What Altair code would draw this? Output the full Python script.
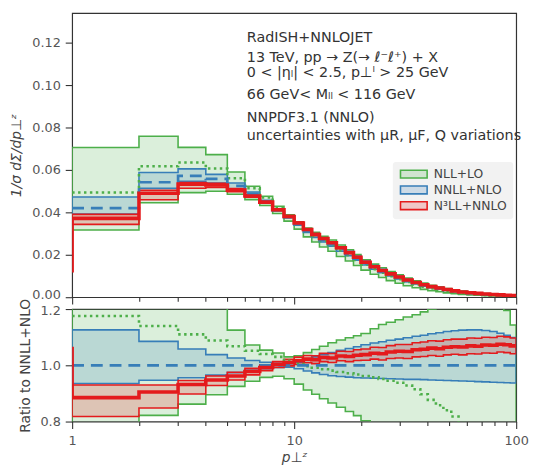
import altair as alt
import pandas as pd

# ---------------- data ----------------
edges = [1, 2, 3, 4, 5, 6, 7, 8, 9, 10, 11, 12, 13, 14.2, 15.5, 17, 18.5, 20,
         22, 24, 26, 28.5, 31, 34, 37, 40, 43.5, 47, 51, 55, 60, 65, 70, 76, 82, 88, 94, 100]

series_names = ["NLL+LO", "NNLL+NLO", "N³LL+NNLO"]
series_colors = ["#4daf4a", "#377eb8", "#e41a1c"]

# NNLL+NLO central value, 1/sigma dSigma/dpT
nnll_central = [0.0420, 0.0542, 0.0572, 0.0558, 0.0525, 0.0488, 0.0452, 0.0411, 0.0377,
                0.0344, 0.0312, 0.0290, 0.0269, 0.0250, 0.0226, 0.0204, 0.0182, 0.0159,
                0.0138, 0.0121, 0.0105, 0.00905, 0.00772, 0.00654, 0.00558, 0.00471,
                0.00406, 0.00338, 0.00281, 0.00235, 0.00196, 0.00169, 0.00140, 0.00121,
                0.00102, 0.00084, 0.00075]

# ratios to NNLL+NLO central
nll_c = [1.175, 1.140, 1.110, 1.088, 1.068, 1.052, 1.040, 1.030, 1.016,
         1.005, 0.997, 0.991, 0.986, 0.981, 0.976, 0.972, 0.967, 0.962,
         0.957, 0.951, 0.945, 0.938, 0.928, 0.915, 0.897, 0.877,
         0.858, 0.840, 0.818, 0.795, 0.772, 0.750, 0.728, 0.705,
         0.685, 0.665, 0.645]
nll_hi = [1.680, 1.400, 1.235, 1.205, 1.125, 1.072, 1.054, 1.044, 1.030,
          1.034, 1.045, 1.056, 1.068, 1.080, 1.090, 1.098, 1.105, 1.113,
          1.130, 1.145, 1.153, 1.162, 1.172, 1.180, 1.190, 1.200,
          1.210, 1.215, 1.220, 1.225, 1.225, 1.230, 1.225, 1.215,
          1.205, 1.195, 1.143]
nll_lo = [0.755, 0.822, 0.862, 0.895, 0.925, 0.943, 0.957, 0.961, 0.952,
          0.933, 0.912, 0.897, 0.881, 0.866, 0.851, 0.836, 0.821, 0.803,
          0.785, 0.765, 0.745, 0.725, 0.705, 0.685, 0.665, 0.645,
          0.625, 0.605, 0.585, 0.565, 0.545, 0.525, 0.505, 0.490,
          0.475, 0.460, 0.445]

nnll_c = [1.0] * 37
nnll_hi = [1.126, 1.085, 1.058, 1.038, 1.026, 1.017, 1.011, 1.007, 1.006,
           1.010, 1.020, 1.030, 1.038, 1.045, 1.053, 1.060, 1.066, 1.073,
           1.079, 1.084, 1.089, 1.093, 1.098, 1.103, 1.107, 1.112,
           1.116, 1.120, 1.123, 1.125, 1.126, 1.126, 1.124, 1.120,
           1.114, 1.107, 1.099]
nnll_lo = [0.935, 0.947, 0.956, 0.965, 0.974, 0.982, 0.988, 0.992, 0.993,
           0.988, 0.980, 0.973, 0.967, 0.963, 0.960, 0.958, 0.956, 0.955,
           0.954, 0.953, 0.952, 0.951, 0.950, 0.950, 0.949, 0.948,
           0.947, 0.946, 0.945, 0.944, 0.943, 0.942, 0.941, 0.940,
           0.939, 0.938, 0.937]

n3ll_c = [0.885, 0.905, 0.932, 0.948, 0.962, 0.978, 0.992, 1.003, 1.010,
          1.016, 1.022, 1.020, 1.028, 1.026, 1.033, 1.031, 1.036, 1.038,
          1.043, 1.041, 1.047, 1.050, 1.049, 1.055, 1.057, 1.061,
          1.059, 1.064, 1.066, 1.065, 1.069, 1.068, 1.072, 1.071,
          1.075, 1.073, 1.069]
n3ll_lo = [0.818, 0.848, 0.898, 0.928, 0.948, 0.966, 0.981, 0.992, 0.998,
           1.003, 1.009, 1.006, 1.013, 1.010, 1.016, 1.013, 1.017, 1.018,
           1.022, 1.019, 1.024, 1.026, 1.024, 1.030, 1.031, 1.035,
           1.032, 1.037, 1.039, 1.037, 1.041, 1.040, 1.044, 1.043,
           1.047, 1.045, 1.041]
n3ll_hi = [0.930, 0.930, 0.946, 0.962, 0.975, 0.989, 1.002, 1.013, 1.021,
           1.029, 1.035, 1.034, 1.043, 1.042, 1.050, 1.049, 1.055, 1.058,
           1.064, 1.063, 1.070, 1.074, 1.074, 1.080, 1.083, 1.087,
           1.086, 1.091, 1.093, 1.093, 1.097, 1.096, 1.100, 1.099,
           1.103, 1.101, 1.097]

# bin just below pT = 1 (only its step edge at pT = 1 is visible)
under_edge = 0.5
under_n3ll_abs = 0.0125
under_n3ll_ratio = 1.06

ann_lines = ["RadISH+NNLOJET",
             "13 TeV, pp → Z(→ ℓ⁻ℓ⁺) + X",
             "0 < |ηₗ| < 2.5, p⊥ˡ > 25 GeV",
             "66 GeV< Mₗₗ < 116 GeV",
             "NNPDF3.1 (NNLO)",
             "uncertainties with μR, μF, Q variations"]

# ---------------- tables ----------------
n_bins = len(edges) - 1
band_rows = []
for name, lo, hi in [(series_names[0], nll_lo, nll_hi),
                     (series_names[1], nnll_lo, nnll_hi),
                     (series_names[2], n3ll_lo, n3ll_hi)]:
    for i, e in enumerate(edges):
        k = min(i, n_bins - 1)
        band_rows.append({"series": name, "x": e, "lo_r": lo[k], "hi_r": hi[k],
                          "lo_a": lo[k] * nnll_central[k], "hi_a": hi[k] * nnll_central[k]})
bands = pd.DataFrame(band_rows)

line_rows = []
for name, c in [(series_names[0], nll_c), (series_names[1], nnll_c), (series_names[2], n3ll_c)]:
    if name == series_names[2]:
        line_rows.append({"series": name, "x": under_edge, "r": under_n3ll_ratio, "a": under_n3ll_abs})
    for i, e in enumerate(edges):
        k = min(i, n_bins - 1)
        line_rows.append({"series": name, "x": e, "r": c[k], "a": c[k] * nnll_central[k]})
lines = pd.DataFrame(line_rows)

# ---------------- encodings ----------------
W, H_TOP, H_BOT = 450, 288, 114
tick_vals = [1, 2, 3, 4, 5, 6, 7, 8, 9, 10, 20, 30, 40, 50, 60, 70, 80, 90, 100]
major = "datum.value == 1 || datum.value == 10 || datum.value == 100"
tick_size = {"condition": {"test": major, "value": 7}, "value": 4}
xscale = alt.Scale(type="log", domain=[1, 100], nice=False)
cscale = alt.Scale(domain=series_names, range=series_colors)


def x_enc(bottom):
    if bottom:
        ax = alt.Axis(values=tick_vals, labelExpr=f"({major}) ? datum.label : ''",
                      format="d", labelFlush=False, tickSize=tick_size,
                      title="p⊥ᶻ", titleFontStyle="italic", labelPadding=6, titlePadding=4)
    else:
        ax = alt.Axis(values=tick_vals, labels=False, tickSize=tick_size, title=None)
    return alt.X("x:Q", scale=xscale, axis=ax)


top_y_axis = alt.Axis(values=[0.0, 0.02, 0.04, 0.06, 0.08, 0.10, 0.12], format=".2f",
                      tickSize=7, title="1/σ dΣ/dp⊥ᶻ", titleFontStyle="italic",
                      titlePadding=8, labelPadding=5,
                      labelOffset={"condition": {"test": "datum.value == 0", "value": -3}, "value": 0})
bot_y_axis = alt.Axis(values=[0.8, 1.0, 1.2], format=".1f", tickSize=7,
                      title="Ratio to NNLL+NLO", titlePadding=8, labelPadding=5,
                      labelOffset={"condition": {"test": "datum.value > 1.1", "value": 2}, "value": 0})
top_yscale = alt.Scale(domain=[0, 0.134], nice=False, zero=False)
bot_yscale = alt.Scale(domain=[0.8, 1.2], nice=False, zero=False)

legend = alt.Legend(title=None, orient="none", legendX=325, legendY=151,
                    fillColor="#f2f2f2", padding=6, cornerRadius=3,
                    labelFontSize=12.5, labelColor="#444444",
                    symbolType="M-2.7,-0.8H2.7V0.8H-2.7Z", symbolSize=100,
                    symbolStrokeWidth=2, rowPadding=1, labelOffset=14, symbolOffset=9)

line_styles = {
    series_names[0]: dict(strokeWidth=2.6, strokeDash=[2.5, 3.5]),
    series_names[1]: dict(strokeWidth=2.7, strokeDash=[12, 7]),
    series_names[2]: dict(strokeWidth=3.6),
}


def panel(bottom):
    ylo, yhi, ycol = ("lo_r", "hi_r", "r") if bottom else ("lo_a", "hi_a", "a")
    yaxis = bot_y_axis if bottom else top_y_axis
    yscale = bot_yscale if bottom else top_yscale
    layers = []
    for name in series_names:
        d = bands[bands.series == name]
        layers.append(
            alt.Chart(d).mark_area(interpolate="step-after", clip=True).encode(
                x=x_enc(bottom),
                y=alt.Y(f"{ylo}:Q", scale=yscale, axis=yaxis),
                y2=f"{yhi}:Q",
                fill=alt.Fill("series:N", scale=cscale, legend=None if bottom else legend),
                stroke=alt.Stroke("series:N", scale=cscale, legend=None if bottom else legend),
            )
        )
    for idx, name in enumerate(series_names):
        d = lines[lines.series == name]
        layers.append(
            alt.Chart(d).mark_line(interpolate="step-after", clip=True,
                                   color=series_colors[idx], strokeCap="butt",
                                   **line_styles[name]).encode(
                x=x_enc(bottom),
                y=alt.Y(f"{ycol}:Q", scale=yscale, axis=yaxis),
            )
        )
    if not bottom:
        ann_y = [29.5, 49.5, 64.5, 87.5, 110, 128.5]
        for t, yy in zip(ann_lines, ann_y):
            layers.append(
                alt.Chart(pd.DataFrame({"t": [t]})).mark_text(
                    align="left", baseline="alphabetic", fontSize=14.5, color="#333333"
                ).encode(text="t:N", x=alt.value(177), y=alt.value(yy))
            )
    return alt.layer(*layers).properties(width=W, height=H_BOT if bottom else H_TOP)


chart = (
    alt.vconcat(panel(False), panel(True), spacing=12, bounds="flush")
    .resolve_scale(fill="independent", stroke="independent")
    .properties(padding={"left": 1, "top": 1, "right": 0, "bottom": 0})
    .configure(font="DejaVu Sans", background="white")
    .configure_view(stroke="#333333", strokeWidth=1.2)
    .configure_axis(domain=False, grid=False, labelFontSize=13, labelColor="#555555",
                    titleFontSize=14, titleColor="#444444", titleFontWeight="normal",
                    tickColor="#333333", tickWidth=1.1)
    .configure_area(fillOpacity=0.2, strokeWidth=1.6)
)

chart.save("out.html", embed_options={"renderer": "svg", "actions": False})
